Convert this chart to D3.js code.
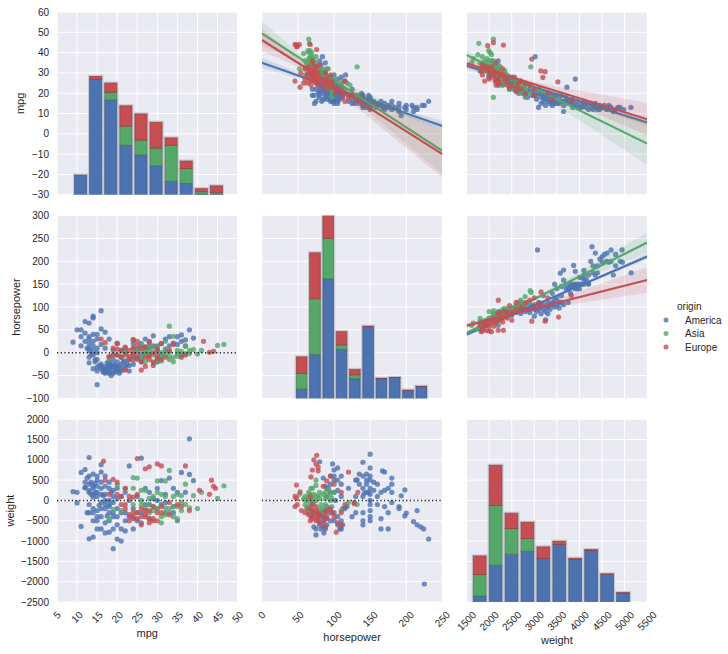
<!DOCTYPE html>
<html><head><meta charset="utf-8">
<script src="https://cdn.jsdelivr.net/npm/d3@7"></script>
<style>body{margin:0;background:#fff;} text{font-family:"Liberation Sans", Arial, sans-serif; fill:#262626;}</style>
</head><body><svg id="c" width="728" height="654"></svg>
<script>
// ---------- categories / axes ----------
const origins = ["America", "Asia", "Europe"];
const colors = ["#4C72B0", "#55A868", "#C44E52"];
const varNames = ["mpg", "horsepower", "weight"];
const axisDomains = [[5, 50], [0, 250], [1500, 5500]];
const rowDomains = [[-30, 60], [-100, 300], [-2500, 2000]];
const mpgTicks = [5, 10, 15, 20, 25, 30, 35, 40, 45, 50];
const hpTicks = [0, 50, 100, 150, 200, 250];
const weightTicks = [1500, 2000, 2500, 3000, 3500, 4000, 4500, 5000, 5500];
const mpgRowTicks = [-30, -20, -10, 0, 10, 20, 30, 40, 50, 60];
const hpRowTicks = [-100, -50, 0, 50, 100, 150, 200, 250, 300];
const weightRowTicks = [-2500, -2000, -1500, -1000, -500, 0, 500, 1000, 1500, 2000];

// ---------- diagonal histograms (stacked tops: America, +Asia, +Europe) ----------
const mpgBinEdges = [9, 12.76, 16.52, 20.28, 24.04, 27.8, 31.56, 35.32, 39.08, 42.84, 46.6];
const mpgHistAmerica = [-20.3, 26.9, 16.7, -5.6, -10.3, -15.7, -23.3, -24.4, -29.7, -29.7];
const mpgHistAsia    = [-20.3, 26.9, 20.5, 3.8, -3.1, -7.0, -5.6, -17.0, -28.5, -28.8];
const mpgHistEurope  = [-20.3, 28.3, 25.0, 13.8, 9.8, 5.7, -2.0, -13.4, -27.0, -25.6];

const hpBinEdges = [46, 64.4, 82.8, 101.2, 119.6, 138, 156.4, 174.8, 193.2, 211.6, 230];
const hpHistAmerica = [-79.6, -4, 161.8, 6.9, -57, 57, -56.4, -54.2, -82.5, -73.8];
const hpHistAsia    = [-45.5, 118, 250.5, 17, -48.4, 57, -56.4, -54.2, -82.5, -73.8];
const hpHistEurope  = [-9.1, 218.5, 302, 46, -36.7, 58, -56, -54, -82, -73.5];

const weightBinEdges = [1613, 1965.7, 2318.4, 2671.1, 3023.8, 3376.5, 3729.2, 4081.9, 4434.6, 4787.3, 5140];
const weightHistAmerica = [-2351, -1596, -1325, -1251, -1432, -1087, -1456, -1235, -1818, -2278];
const weightHistAsia    = [-1826, -126, -693, -939, -1432, -1087, -1456, -1235, -1818, -2278];
const weightHistEurope  = [-1366, 867, -315, -537, -1144, -1005, -1424, -1210, -1808, -2270];

// ---------- upper: regression scatter ----------
const hpMpgAmerica = [[231,16],[225,14],[222,14],[215,13],[215,12],[210,11],[208,14],[200,12],[198,13],[193,9],[190,13],[190,15],[180,12],[180,14],[175,13],[170,13],[170,15],[167,13],[165,14],[165,16],[160,14],[158,13],[155,14],[153,16],[152,15],[150,13],[150,14],[150,15],[150,16],[150,17],[150,18],[149,18],[148,19],[145,13],[145,15],[145,17],[142,16],[140,14],[140,15],[140,17],[140,18],[140,19],[139,19],[138,20],[137,18],[135,17],[133,19],[130,17],[130,19],[129,15],[125,17],[125,22],[120,19],[116,29],[115,20],[115,26],[112,18],[110,18],[110,20],[110,21],[110,22],[110,28],[107,19],[105,17],[105,23],[105,27],[103,21],[103,24],[100,16],[100,18],[100,19],[100,22],[100,23],[100,29],[98,24],[97,18],[97,20],[95,16],[95,17],[95,20],[95,22],[95,25],[93,26],[92,21],[90,17],[90,20],[90,24],[90,26],[90,28],[90,32],[88,18],[88,27],[88,30],[88,35],[86,23],[85,17],[85,20],[85,22],[85,25],[85,30],[84,27],[84,31],[84,38],[82,34],[80,19],[80,21],[80,24],[80,36],[78,29],[75,16],[75,22],[73,15],[72,19],[70,19],[70,22],[100,25],[92,23],[105,20],[130,18],[79,18],[83,16],[105,16],[108,17],[87,21],[89,19],[91,25],[93,19],[96,21],[98,26],[99,17],[101,20],[102,25],[104,22],[106,18],[108,21],[110,24],[112,22],[95,28],[92,26],[86,28],[83,24],[81,22],[78,20],[76,25],[98,16],[100,15],[105,15],[145,14],[148,16],[150,12],[155,16],[160,15],[170,12],[175,14],[180,16],[185,13],[140,13],[135,15],[125,15],[120,16],[190,11],[200,14],[210,13]];
const hpMpgAsia = [[65,46.6],[66,44.5],[64,41],[58,39.6],[69,40],[132,33],[60,36],[65,37],[67,38],[68,34],[70,32],[72,36],[75,33],[75,31],[80,32],[88,30],[92,28],[95,27],[97,24],[97,20],[100,24],[110,26],[115,22],[118,25],[122,24],[132,19],[65,32],[68,31],[67,33],[62,35],[52,32],[60,29],[70,29],[75,27],[67,34],[75,38],[85,28],[88,24],[90,22],[97,18],[95,25],[100,27],[68,37],[70,35],[72,31],[60,32],[65,35],[88,27],[84,32],[92,32],[61,33],[69,36],[66,35],[68,32],[70,34],[72,33],[74,30],[65,40],[67,41],[70,38],[75,35],[78,31],[80,29],[84,29],[90,26],[95,23],[97,22]];
const hpMpgEurope = [[46,44],[48,44],[49,43],[52,44],[48,43],[46,26],[53,23],[67,44],[76,41.5],[71,31],[74,27],[75,29],[71,28],[67,30],[78,30],[76,26],[83,26],[88,25],[90,25],[93,23],[95,29],[98,23],[103,22],[110,21],[112,19],[115,16],[120,18],[125,19],[133,16],[60,27],[65,33],[70,36],[72,34],[76,33],[80,34],[70,31],[64,30],[63,25],[58,25],[54,30],[71,26],[78,24],[67,26],[88,30],[97,26],[102,20],[115,26],[69,29],[70,27],[72,29],[74,31],[75,25],[78,28],[80,27],[85,24],[88,22],[90,27],[67,28],[63,29],[60,32],[68,24]];

const weightMpgAmerica = [[1800,31],[1950,33],[1990,28],[2050,30],[2100,34],[2120,29],[2150,26],[2200,32],[2200,24],[2220,27],[2250,29],[2300,24],[2330,30],[2400,26],[2400,28],[2450,22],[2500,25],[2560,28],[2600,21],[2600,25],[2650,23],[2700,26],[2700,22],[2750,20],[2800,24],[2850,18],[2900,22],[2900,24],[2950,19],[3000,21],[3020,38],[3050,17],[3093,13],[3100,20],[3100,22],[3150,18],[3200,16],[3200,20],[3250,19],[3300,20],[3300,18],[3350,17],[3400,16],[3400,19],[3450,18],[3500,15],[3500,19],[3550,17],[3600,19],[3600,16],[3650,14],[3648,11],[3700,16],[3700,18],[3722,23],[3800,15],[3850,17],[3900,14],[3907,27],[3950,16],[4000,13],[4050,15],[4100,14],[4150,13],[4200,12],[4250,15],[4300,14],[4350,13],[4400,12],[4450,14],[4500,13],[4600,12],[4650,14],[4700,13],[4750,11],[4800,12],[4900,13],[4980,12],[5140,13],[3150,15],[3250,14],[3350,15],[3450,16],[3750,15],[3850,13],[4100,16],[4300,12],[2850,21],[3000,19],[2550,26],[2300,27],[2100,30],[2150,28],[2250,27],[2350,25],[2450,25],[2500,23],[2550,22],[2650,20],[2750,22],[2800,19],[2950,20],[3050,19],[3150,20],[3250,17],[3350,19],[3450,15],[3550,15],[3650,16],[3750,17],[3850,15],[3950,14],[4050,13],[4150,15],[4250,13],[4350,15],[4450,12],[4550,14],[4650,13],[4850,13],[2200,36],[2050,36],[3200,18],[3300,16],[3400,14]];
const weightMpgAsia = [[1613,35],[1650,37],[1750,39],[1770,44.6],[1800,32],[1850,38],[1900,31],[1950,35],[2000,33],[2020,40],[2093,46.6],[2100,36],[2120,29],[2150,31],[2180,27],[2200,34],[2220,24],[2250,30],[2300,28],[2350,26],[2400,25],[2450,22],[2500,27],[2550,24],[2600,21],[2650,23],[2700,20],[2750,22],[2800,18],[2900,20],[2922,33],[2930,24],[2093,18],[2050,39],[1990,41],[2000,30],[1850,34],[1950,37],[2150,33],[2250,27],[2350,31],[1800,35],[1900,36],[1950,32],[2000,36],[2050,34],[2100,32],[2150,29],[2200,31],[2250,33],[2300,24],[2400,29],[2500,23],[2600,26],[2700,24],[2800,22]];
const weightMpgEurope = [[1825,31],[1850,29],[1950,33],[1967,43.4],[2000,27],[2050,28],[2093,44.9],[2100,31],[2130,26],[2150,24],[2200,30],[2250,25],[2315,43.7],[2400,26],[2450,23],[2500,24],[2600,21],[2650,25],[2700,22],[2800,20],[2944,36.8],[2900,24],[3000,19],[3144,31],[3189,27.8],[3240,30.6],[3300,20],[3522,25.6],[3400,17],[3820,16],[2150,35],[2300,32],[2050,33],[1900,26],[2000,29],[2200,27],[2250,29],[1850,34],[1900,33],[2000,31],[2100,29],[2150,27],[2200,25],[2300,29],[2350,27],[2400,24],[2500,28],[2600,23],[2700,26],[2800,25],[3000,22]];

const weightHpAmerica = [[1800,65],[1950,70],[2000,68],[2100,75],[2150,72],[2200,80],[2200,60],[2250,85],[2300,78],[2400,88],[2450,90],[2500,82],[2550,95],[2600,88],[2650,92],[2700,86],[2700,110],[2750,100],[2800,90],[2850,95],[2900,105],[2950,100],[3000,80],[3050,90],[3070,225],[3100,95],[3100,110],[3150,85],[3200,105],[3200,125],[3250,72],[3280,100],[3300,110],[3350,95],[3400,105],[3450,150],[3450,115],[3500,140],[3550,110],[3574,174],[3600,125],[3600,145],[3648,181],[3648,159],[3650,105],[3700,150],[3750,110],[3800,145],[3800,130],[3850,150],[3870,191],[3900,140],[3907,178],[3950,150],[4000,150],[4000,165],[4050,165],[4100,150],[4100,170],[4100,180],[4150,160],[4200,150],[4250,200],[4278,232],[4300,175],[4350,170],[4352,218],[4400,190],[4450,205],[4500,210],[4550,215],[4611,218],[4650,198],[4700,225],[4750,170],[4800,215],[4900,200],[4944,225],[4950,198],[5144,175],[3150,100],[3250,90],[3350,105],[3450,100],[3550,98],[3750,140],[3850,145],[3950,140],[4050,150],[4200,152],[3300,85],[3000,95],[2900,88],[2100,85],[2200,90],[2300,88],[2400,80],[2500,95],[2600,100],[2700,95],[2800,100],[2900,95],[3000,105],[3100,100],[3200,95],[3300,100],[3400,110],[3500,105],[3600,110],[3700,140],[3800,150],[3900,150],[4000,140],[4100,160],[4200,170],[4300,190],[4400,175],[4500,198],[4600,200],[4700,200],[4800,190],[3500,120],[3400,130]];
const weightHpAsia = [[1613,60],[1650,65],[1750,52],[1800,61],[1850,67],[1900,68],[1950,70],[1990,75],[2000,65],[2050,69],[2100,75],[2150,80],[2200,88],[2250,90],[2300,95],[2350,97],[2400,88],[2450,92],[2500,97],[2550,100],[2600,95],[2650,110],[2700,115],[2750,105],[2796,123],[2850,110],[2907,136],[2930,132],[2200,75],[2100,85],[1800,75],[2000,90],[1900,60],[2050,78],[2300,85],[2150,68],[1800,68],[1900,70],[2000,75],[2100,70],[2200,82],[2300,90],[2400,95],[2500,90],[2600,105],[2100,92],[1950,65]];
const weightHpEurope = [[1825,46],[1850,48],[1870,52],[1900,67],[1950,48],[2000,70],[2050,46],[2100,75],[2150,65],[2200,49],[2204,115],[2250,71],[2300,78],[2315,49],[2350,90],[2400,76],[2450,103],[2500,88],[2600,95],[2700,100],[2800,110],[2900,115],[2944,69],[3000,120],[3100,108],[3150,133],[3240,69],[3300,120],[3537,78],[3820,125],[2000,58],[1800,60],[1950,60],[2100,58],[2250,88],[1900,58],[2000,48],[2100,67],[2200,71],[2300,67],[2400,88],[2500,71],[2600,110],[2800,95],[3000,97],[2200,85]];

// regression lines [x0,y0,x1,y1] and confidence bands [x, lo, hi]
const hpMpgLines = [[0,35.0,250,3.9],[0,49.5,250,-8.4],[0,46.2,250,-10.0]];
const hpMpgBands = [
  [[0,32.4,37.6],[50,27.4,30.2],[100,21.8,23.4],[150,15.4,17.2],[200,8.6,11.6],[250,1.6,6.2]],
  [[0,43.5,55.5],[50,35.3,40.5],[100,24.5,28.1],[150,10.2,19.2],[200,-4.9,11.1],[250,-19.9,3.1]],
  [[0,40.7,51.7],[50,32.8,37.2],[100,21.6,26.0],[150,7.6,17.6],[200,-6.9,9.7],[250,-21.6,1.6]]];
const weightMpgLines = [[1500,33.5,5500,5.6],[1500,38.8,5500,-4.8],[1500,34.7,5500,7.2]];
const weightMpgBands = [
  [[1500,31.7,35.3],[2300,26.9,28.9],[3100,21.7,22.9],[3900,16.1,17.5],[4700,10.1,12.3],[5500,3.9,7.3]],
  [[1500,36.3,41.3],[2300,29.1,31.1],[3100,19.4,23.4],[3900,8.1,17.1],[4700,-3.6,11.4],[5500,-15.3,5.7]],
  [[1500,32.2,37.2],[2300,28.0,30.4],[3100,22.2,25.2],[3900,14.7,21.7],[4700,6.9,18.5],[5500,-0.8,15.2]]];
const weightHpLines = [[1500,39.6,5500,210.5],[1500,43.3,5500,241],[1500,59.3,5500,159]];
const weightHpBands = [
  [[1500,34.6,44.6],[2300,71.0,76.6],[3100,106.2,109.8],[3900,139.9,144.3],[4700,172.3,180.3],[5500,204,217]],
  [[1500,39.3,47.3],[2300,80.6,85.0],[3100,117.4,127.4],[3900,151.9,171.9],[4700,185.5,217.5],[5500,219,263]],
  [[1500,54.3,64.3],[2300,76.2,82.2],[3100,94.2,104.2],[3900,107.1,131.1],[4700,119.1,159.1],[5500,131,187]]];

// ---------- lower: residuals ----------
const mpgHpResAmerica = [[9,23],[10,50],[11,50],[11,35],[12,68],[12,43],[13,65],[13,30],[13,-10],[13,-22],[13,10],[13,20],[14,80],[14,76],[14,25],[14,5],[14,-5],[14,15],[15,40],[15,10],[15,-70],[15,-15],[15,30],[15,0],[15,-32],[16,92],[16,52],[16,-25],[16,-35],[16,18],[17,45],[17,-30],[17,-40],[17,10],[17,-45],[18,-20],[18,-35],[18,-45],[18,-30],[18,-10],[18,30],[18,-40],[19,-25],[19,-38],[19,-15],[19,5],[19,-30],[20,-30],[20,-20],[20,-5],[20,20],[20,-35],[21,-25],[21,-10],[21,5],[21,-40],[22,-18],[22,0],[22,10],[22,-28],[23,-15],[23,-40],[24,-8],[24,20],[25,-12],[25,5],[26,-5],[26,-15],[27,0],[27,30],[28,10],[28,-5],[29,37],[29,15],[30,5],[31,-5],[31,20],[32,30],[33,15],[34,21],[35,35],[36,39],[36,25],[37,15],[38,50],[39,32],[36,-5],[30,-20],[16.5,-42],[17.5,-22],[18.5,-50],[19.5,-42],[20.5,-45],[15.5,-28],[14.5,-20],[24,-25],[26,-20],[13.5,-3],[16,-30],[16.5,-38],[17,-35],[17.5,-42],[18,-25],[18.5,-30],[19,-45],[19.5,-28],[20,-40],[20.5,-30],[21,-35],[21.5,-20],[22,-35],[22.5,-25],[23,-28],[13,5],[13,35],[14,40],[12,25],[11,15],[12.5,10],[14.5,-15],[15,-40],[14,-35],[26,20],[27,12],[28,25],[30,15],[32,8],[33,35],[35,18],[37,28]];
const mpgHpResAsia = [[18,-15],[19,-5],[20,21],[21,-8],[22,5],[23,-12],[24,29],[24,-2],[25,8],[26,-10],[27,5],[27,-20],[28,-5],[29,12],[30,-20],[30,10],[31,-8],[31,20],[32,-3],[33,58],[33,-15],[34,36],[34,-10],[35,5],[36,-5],[37,14],[38,-2],[39,7],[40,-3],[41,5],[45,16],[46.6,18],[32,25],[29,-5],[26,15],[28,2],[31,0],[33,-8],[35,-3],[37,-2],[24,10],[25,-15],[26,2],[27,-8],[28,15],[30,-12],[31,-18],[32,5],[33,2],[34,-20],[35,-8],[36,3],[38,5],[29,-22],[27,12]];
const mpgHpResEurope = [[16,30],[17,22],[18,-8],[19,10],[20,20],[20,-5],[21,-10],[22,12],[22,-38],[23,5],[24,-15],[24,28],[25,25],[25,-5],[26,-38],[26,10],[27,-10],[28,22],[29,-28],[29,0],[30,-5],[31,-15],[31,20],[33,5],[34,18],[36,-10],[37,-5],[41.5,25],[43,1],[44,3],[27,12],[23,-15],[25,-12],[28,-8],[30,8],[19,-5],[21,5],[22,-5],[23,-8],[24,-2],[25,15],[26,-20],[27,-30],[28,-15],[29,-20],[30,-12],[32,-10],[24,10],[20,8]];

const mpgWtResAmerica = [[9,215],[10,200],[10,-60],[11,690],[11,-640],[12,310],[12,760],[12,320],[13,1057],[13,400],[13,-943],[13,250],[13,-100],[14,-900],[14,650],[14,300],[14,80],[14,-300],[15,500],[15,200],[15,-250],[15,-500],[15,-700],[16,880],[16,300],[16,-50],[16,-400],[16,700],[17,600],[17,150],[17,-200],[17,-550],[18,450],[18,-100],[18,-780],[18,-300],[19,-1188],[19,250],[19,-400],[19,-50],[20,300],[20,-200],[20,-950],[20,-600],[21,-700],[21,-1000],[21,100],[22,-300],[22,-750],[22,200],[23,850],[23,-400],[23,0],[24,-200],[24,-700],[25,-500],[25,100],[26,1040],[26,-300],[27,300],[27,-100],[28,200],[28,-450],[29,50],[30,-200],[30,300],[31,490],[31,-100],[32,150],[33,550],[34,300],[34,-150],[35,200],[36,690],[37,200],[38,1516],[38,640],[39,490],[35,-500],[32,-300],[13.5,150],[14.5,420],[15.5,-120],[16.5,120],[17.5,-380],[18.5,200],[12.5,-300],[13,600],[14,-500],[15,350],[16,-200],[17,350],[18,-150],[19,-700],[20,50],[12,450],[12.5,550],[13,200],[13.5,450],[14,150],[14,350],[14.5,200],[15,100],[15,600],[16,150],[16,450],[17,0],[17,-100],[18,0],[18,300],[19,100],[13,-300],[14,-200],[15,-400],[16,-700],[17,-800],[18,-500],[19,-300],[20,-400],[21,-300],[22,-500],[24,-400],[26,-550],[28,-100],[30,0],[32,-50],[34,-300]];
const mpgWtResAsia = [[18,-450],[19,-220],[20,380],[21,-250],[22,300],[24,560],[24,300],[25,550],[26,0],[27,250],[28,-300],[29,-150],[30,480],[30,-200],[31,-550],[31,-400],[32,480],[32,-350],[33,740],[33,-300],[34,-150],[35,-450],[35,150],[36,-50],[37,400],[38,-180],[39,120],[40,-200],[41,200],[45,50],[46.6,360],[28,50],[26,-100],[29,-250],[31,-100],[32,-180],[34,100],[36,120],[24,-100],[25,-300],[26,250],[27,-200],[28,-100],[29,100],[30,200],[31,150],[33,-200],[34,-400],[36,-250],[37,-100],[32,100],[35,-150]];
const mpgWtResEurope = [[16.6,970],[17,500],[18,150],[19,520],[20,450],[21,100],[22,300],[23,-350],[23,100],[24,-450],[25,1030],[25,150],[26,-200],[26,-600],[27,780],[27,-250],[28,830],[28,-450],[29,-500],[30,900],[30,-500],[31,850],[31,-300],[33,-50],[36,-150],[37,850],[38,-250],[40.5,250],[43.5,500],[44,350],[44.5,300],[43,150],[25,-300],[29,-150],[24,80],[22,-100],[27,-350],[28,-250],[20,150],[21,-100],[22,-200],[23,-500],[24,-300],[26,-400],[27,-400],[28,-550],[29,-450],[30,-300],[31,-150],[33,-350],[35,-100],[25,-450]];

const hpWtResAmerica = [[150,1140],[225,-2057],[231,-950],[224,-700],[220,-650],[215,-250],[215,-600],[210,-520],[200,-310],[198,-380],[198,260],[193,115],[190,-150],[190,-200],[180,550],[180,200],[175,-700],[175,300],[170,700],[167,730],[165,-450],[165,-700],[160,100],[155,450],[150,800],[150,300],[150,-100],[150,-400],[148,200],[145,650],[145,500],[140,940],[140,300],[140,-300],[140,-500],[135,650],[132,508],[130,100],[128,-50],[125,-400],[120,300],[115,-200],[110,400],[110,-700],[105,800],[105,-600],[100,750],[100,200],[100,-500],[98,900],[95,600],[95,-300],[92,300],[90,-400],[90,100],[88,-700],[86,-800],[85,550],[85,-250],[82,-400],[80,950],[80,-600],[78,-500],[75,-850],[72,-650],[70,-300],[68,-200],[112,-600],[118,-150],[108,-700],[102,0],[150,500],[145,400],[140,600],[150,150],[155,250],[160,-100],[170,250],[180,-50],[110,600],[100,500],[95,200],[90,-150],[85,-500],[105,250],[112,-200],[88,350],[150,-250],[142,180],[70,-400],[75,-700],[80,-300],[82,-700],[85,-650],[88,-450],[90,-600],[95,-500],[100,-300],[105,-400],[110,-500],[90,300],[95,400],[100,600],[105,500],[110,100],[130,500],[135,400],[140,100],[145,200],[150,600],[150,0],[160,400],[165,200],[170,-150],[175,-300],[180,400],[150,-500],[140,-600],[130,-300]];
const hpWtResAsia = [[62,0],[65,80],[68,50],[70,-100],[72,150],[75,500],[75,370],[80,-200],[85,150],[88,-100],[90,100],[92,280],[95,0],[97,-150],[60,-100],[52,150],[58,40],[63,-160],[67,-50],[100,200],[110,-250],[120,-50],[132,-100],[70,300],[80,50],[86,-300],[65,-300],[68,-150],[75,0],[78,120],[88,200],[95,-250],[60,100],[72,-250],[62,-200],[65,200],[67,150],[70,50],[72,-50],[75,100],[80,200],[82,-100],[85,-200],[88,50],[90,-200],[95,150],[68,300],[75,-300],[97,50]];
const hpWtResEurope = [[76,1110],[72,1000],[75,900],[78,820],[78,730],[70,750],[68,580],[95,600],[90,480],[100,400],[85,350],[48,380],[53,210],[46,-150],[49,-100],[55,-250],[60,-300],[65,-350],[70,-450],[75,-500],[80,-550],[85,-400],[88,-650],[90,-250],[97,-300],[105,-550],[110,200],[110,-300],[115,-100],[120,700],[128,-80],[133,200],[67,100],[75,-150],[103,-780],[70,-250],[78,-350],[48,50],[46,100],[65,-200],[68,-400],[70,-100],[72,-300],[75,-400],[78,-450],[80,-350],[85,-550],[90,-450],[95,-200],[100,-400],[110,-600],[67,-500],[88,-300],[76,-250]];

// ---------- layout ----------
const svg = d3.select("#c");
const L = [57, 261.8, 466.6], W = 180.6;
const T = [12, 215.6, 419.2], H = 182.8;
const colTicks = [mpgTicks, hpTicks, weightTicks];
const rowTicks = [mpgRowTicks, hpRowTicks, weightRowTicks];

const hists = [
  {edges: mpgBinEdges, tops: [mpgHistAmerica, mpgHistAsia, mpgHistEurope]},
  {edges: hpBinEdges, tops: [hpHistAmerica, hpHistAsia, hpHistEurope]},
  {edges: weightBinEdges, tops: [weightHistAmerica, weightHistAsia, weightHistEurope]}];
const upper = {
  "0,1": {pts: [hpMpgAmerica, hpMpgAsia, hpMpgEurope], lines: hpMpgLines, bands: hpMpgBands},
  "0,2": {pts: [weightMpgAmerica, weightMpgAsia, weightMpgEurope], lines: weightMpgLines, bands: weightMpgBands},
  "1,2": {pts: [weightHpAmerica, weightHpAsia, weightHpEurope], lines: weightHpLines, bands: weightHpBands}};
const lower = {
  "1,0": [mpgHpResAmerica, mpgHpResAsia, mpgHpResEurope],
  "2,0": [mpgWtResAmerica, mpgWtResAsia, mpgWtResEurope],
  "2,1": [hpWtResAmerica, hpWtResAsia, hpWtResEurope]};

const fmt = v => (v < 0 ? "\u2212" + Math.abs(v) : String(v));
const defs = svg.append("defs");

for (let r = 0; r < 3; r++) {
  for (let c = 0; c < 3; c++) {
    const x = d3.scaleLinear().domain(axisDomains[c]).range([L[c], L[c] + W]);
    const y = d3.scaleLinear().domain(rowDomains[r]).range([T[r] + H, T[r]]);
    const id = "clip" + r + c;
    defs.append("clipPath").attr("id", id).append("rect")
      .attr("x", L[c]).attr("y", T[r]).attr("width", W).attr("height", H);
    const g = svg.append("g");
    g.append("rect").attr("x", L[c]).attr("y", T[r]).attr("width", W).attr("height", H).attr("fill", "#EAEAF2");
    g.selectAll(".vg").data(colTicks[c]).join("line")
      .attr("x1", d => x(d)).attr("x2", d => x(d)).attr("y1", T[r]).attr("y2", T[r] + H)
      .attr("stroke", "#fff").attr("stroke-width", 1);
    g.selectAll(".hg").data(rowTicks[r]).join("line")
      .attr("y1", d => y(d)).attr("y2", d => y(d)).attr("x1", L[c]).attr("x2", L[c] + W)
      .attr("stroke", "#fff").attr("stroke-width", 1);
    const cg = g.append("g").attr("clip-path", `url(#${id})`);

    if (r === c) {
      const h = hists[c];
      const base = T[r] + H + 2;
      for (let i = 0; i < h.edges.length - 1; i++) {
        const w = h.edges[i + 1] - h.edges[i];
        const x0 = x(h.edges[i] + 0.1 * w), x1 = x(h.edges[i] + 0.9 * w);
        cg.append("rect").attr("x", x0 - 0.8).attr("width", x1 - x0 + 1.6)
          .attr("y", y(h.tops[2][i]) - 0.8).attr("height", base - y(h.tops[2][i]) + 0.8)
          .attr("fill", "none").attr("stroke", "#b8b8c4").attr("stroke-opacity", 0.7).attr("stroke-width", 1.6);
        let prev = base;
        for (let k = 0; k < 3; k++) {
          const top = y(h.tops[k][i]);
          if (prev - top > 0.05) {
            cg.append("rect").attr("x", x0).attr("width", x1 - x0)
              .attr("y", top).attr("height", prev - top)
              .attr("fill", colors[k])
              .attr("stroke", d3.color(colors[k]).darker(0.9)).attr("stroke-width", 0.8).attr("stroke-opacity", 0.8);
          }
          prev = Math.min(prev, top);
        }
      }
    } else if (r < c) {
      const u = upper[r + "," + c];
      const area = d3.area().x(d => x(d[0])).y0(d => y(d[1])).y1(d => y(d[2])).curve(d3.curveNatural);
      for (let k = 0; k < 3; k++) {
        cg.selectAll(null).data(u.pts[k]).join("circle")
          .attr("cx", d => x(d[0])).attr("cy", d => y(d[1])).attr("r", 2.6)
          .attr("fill", colors[k]).attr("fill-opacity", 0.8);
        cg.append("path").attr("d", area(u.bands[k])).attr("fill", colors[k]).attr("fill-opacity", 0.15);
        const ln = u.lines[k];
        cg.append("line").attr("x1", x(ln[0])).attr("y1", y(ln[1])).attr("x2", x(ln[2])).attr("y2", y(ln[3]))
          .attr("stroke", colors[k]).attr("stroke-width", 2.2);
      }
    } else {
      const pts = lower[r + "," + c];
      for (let k = 0; k < 3; k++) {
        cg.selectAll(null).data(pts[k]).join("circle")
          .attr("cx", d => x(d[0])).attr("cy", d => y(d[1])).attr("r", 2.6)
          .attr("fill", colors[k]).attr("fill-opacity", 0.8);
      }
      cg.append("line").attr("x1", L[c]).attr("x2", L[c] + W).attr("y1", y(0)).attr("y2", y(0))
        .attr("stroke", "#222").attr("stroke-width", 1.4).attr("stroke-dasharray", "1.3,2.4");
    }

    if (c === 0) {
      g.selectAll(".yt").data(rowTicks[r]).join("text")
        .attr("x", 49).attr("y", d => y(d)).attr("dy", "0.35em")
        .attr("text-anchor", "end").attr("font-size", 10).text(fmt);
    }
    if (r === 2) {
      colTicks[c].forEach(v => {
        const t = g.append("text").attr("font-size", 10).attr("text-anchor", "middle").attr("dy", "0.35em").text(fmt(v));
        const w = t.node().getComputedTextLength();
        const cx = x(v), cy = 610.5 + (w + 7.5) / 2.828;
        t.attr("x", cx).attr("y", cy).attr("transform", `rotate(-45,${cx},${cy})`);
      });
    }
  }
}

// axis labels
const xLabelBase = [637, 641, 644];
varNames.forEach((name, c) => {
  svg.append("text").attr("x", L[c] + W / 2).attr("y", xLabelBase[c]).attr("text-anchor", "middle")
    .attr("font-size", 11).text(name);
});
const yLabelX = [24.5, 20, 14.5];
varNames.forEach((name, r) => {
  const cx = yLabelX[r], cy = T[r] + H / 2;
  svg.append("text").attr("x", cx).attr("y", cy).attr("text-anchor", "middle")
    .attr("transform", `rotate(-90,${cx},${cy})`).attr("font-size", 11).text(name);
});

// legend
const lg = svg.append("g");
lg.append("text").attr("x", 677).attr("y", 309.5).attr("font-size", 10).text("origin");
origins.forEach((o, k) => {
  const yy = 320 + k * 13.5;
  lg.append("circle").attr("cx", 666).attr("cy", yy).attr("r", 2.5).attr("fill", colors[k]).attr("fill-opacity", 0.8);
  lg.append("text").attr("x", 685).attr("y", yy + 3.5).attr("font-size", 10).text(o);
});
</script>
</body></html>
